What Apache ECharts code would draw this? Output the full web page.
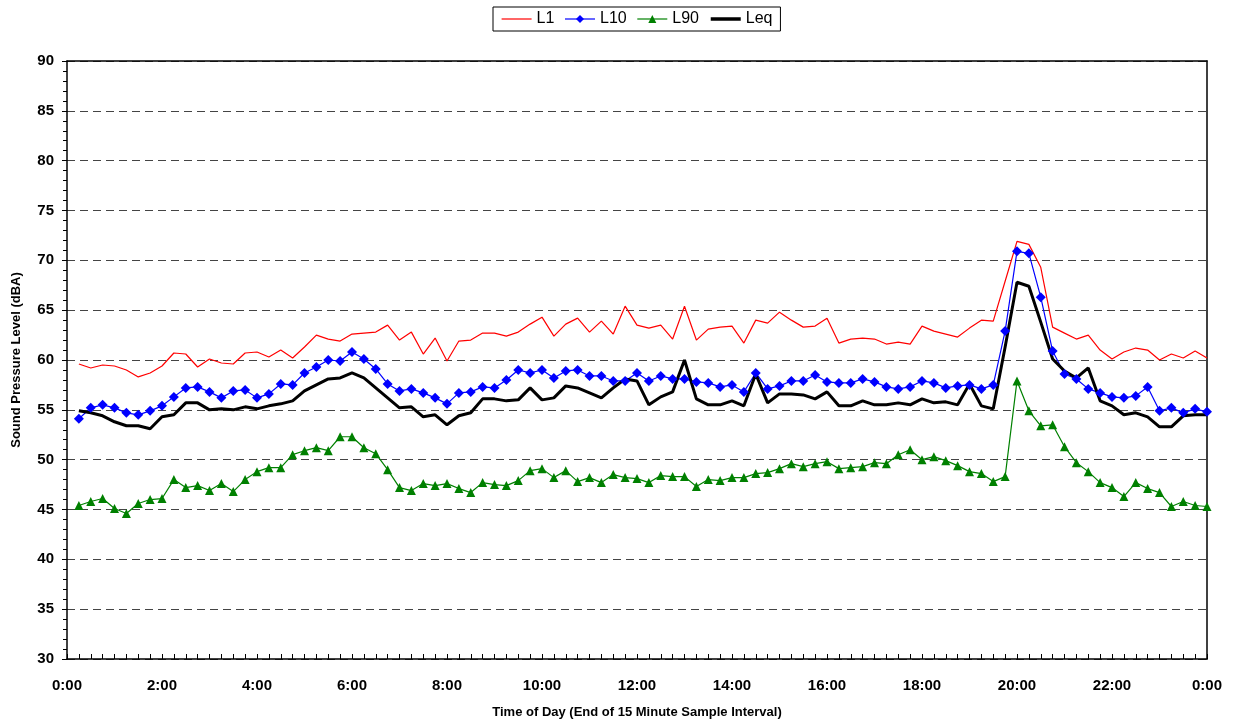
<!DOCTYPE html>
<html>
<head>
<meta charset="utf-8">
<script src="https://cdn.jsdelivr.net/npm/echarts@6/dist/echarts.min.js"></script>
<style>
  html, body { margin: 0; padding: 0; background: #fff; }
  #chart { width: 1233px; height: 725px; }
</style>
</head>
<body>
<div id="chart"></div>
<script>
// 15 minute samples, end of interval: 0:15 ... 24:00
const L1 = [59.6, 59.2, 59.5, 59.4, 59.0, 58.3, 58.7, 59.4, 60.7, 60.6, 59.3, 60.1,
  59.7, 59.6, 60.7, 60.8, 60.3, 61.0, 60.2, 61.3, 62.5, 62.1, 61.9, 62.6,
  62.7, 62.8, 63.5, 62.0, 62.8, 60.6, 62.2, 59.9, 61.9, 62.0, 62.7, 62.7,
  62.4, 62.8, 63.6, 64.3, 62.4, 63.6, 64.2, 62.8, 63.9, 62.6, 65.4, 63.5,
  63.2, 63.5, 62.1, 65.4, 62.0, 63.1, 63.3, 63.4, 61.7, 64.0, 63.7, 64.8,
  64.0, 63.3, 63.4, 64.2, 61.7, 62.1, 62.2, 62.1, 61.6, 61.8, 61.6, 63.4,
  62.9, 62.6, 62.3, 63.2, 64.0, 63.9, 67.9, 71.9, 71.6, 69.3, 63.3, 62.7,
  62.1, 62.5, 61.0, 60.1, 60.8, 61.2, 61.0, 60.0, 60.6, 60.2, 60.9, 60.2];

const L10 = [54.1, 55.2, 55.5, 55.2, 54.7, 54.5, 54.9, 55.4, 56.3, 57.2, 57.3, 56.8,
  56.2, 56.9, 57.0, 56.2, 56.6, 57.6, 57.5, 58.7, 59.3, 60.0, 59.9, 60.8,
  60.1, 59.1, 57.6, 56.9, 57.1, 56.7, 56.2, 55.6, 56.7, 56.8, 57.3, 57.2,
  58.0, 59.0, 58.7, 59.0, 58.2, 58.9, 59.0, 58.4, 58.4, 57.9, 57.9, 58.7,
  57.9, 58.4, 58.1, 58.1, 57.8, 57.7, 57.3, 57.5, 56.8, 58.7, 57.1, 57.4,
  57.9, 57.9, 58.5, 57.8, 57.7, 57.7, 58.1, 57.8, 57.3, 57.1, 57.3, 57.9,
  57.7, 57.2, 57.4, 57.5, 57.1, 57.5, 62.9, 70.9, 70.7, 66.3, 60.9, 58.6,
  58.1, 57.1, 56.7, 56.3, 56.2, 56.4, 57.3, 54.9, 55.2, 54.7, 55.1, 54.8];

const L90 = [45.4, 45.8, 46.1, 45.1, 44.6, 45.6, 46.0, 46.1, 48.0, 47.2, 47.4, 46.9,
  47.6, 46.8, 48.0, 48.8, 49.2, 49.2, 50.5, 50.9, 51.2, 50.9, 52.3, 52.3,
  51.2, 50.6, 49.0, 47.2, 46.9, 47.6, 47.4, 47.6, 47.1, 46.7, 47.7, 47.5,
  47.4, 47.9, 48.9, 49.1, 48.2, 48.9, 47.8, 48.2, 47.7, 48.5, 48.2, 48.1,
  47.7, 48.4, 48.3, 48.3, 47.3, 48.0, 47.9, 48.2, 48.2, 48.6, 48.7, 49.1,
  49.6, 49.3, 49.6, 49.8, 49.1, 49.2, 49.3, 49.7, 49.6, 50.5, 51.0, 50.0,
  50.3, 49.9, 49.4, 48.8, 48.6, 47.8, 48.3, 57.9, 54.9, 53.4, 53.5, 51.3,
  49.7, 48.8, 47.7, 47.2, 46.3, 47.7, 47.1, 46.7, 45.3, 45.8, 45.4, 45.3];

const Leq = [54.9, 54.7, 54.4, 53.8, 53.4, 53.4, 53.1, 54.3, 54.5, 55.7, 55.7, 55.0,
  55.1, 55.0, 55.3, 55.1, 55.4, 55.6, 55.9, 56.9, 57.5, 58.1, 58.2, 58.7,
  58.2, 57.2, 56.2, 55.2, 55.3, 54.3, 54.5, 53.5, 54.4, 54.7, 56.1, 56.1,
  55.9, 56.0, 57.2, 56.0, 56.2, 57.4, 57.2, 56.7, 56.2, 57.2, 58.1, 57.9,
  55.5, 56.3, 56.8, 60.0, 56.1, 55.5, 55.5, 55.9, 55.4, 58.6, 55.7, 56.6,
  56.6, 56.5, 56.1, 56.8, 55.4, 55.4, 55.9, 55.5, 55.5, 55.7, 55.5, 56.1,
  55.7, 55.8, 55.5, 57.6, 55.4, 55.1, 61.3, 67.8, 67.4, 63.8, 60.1, 58.9,
  58.2, 59.2, 55.9, 55.4, 54.5, 54.7, 54.3, 53.3, 53.3, 54.4, 54.5, 54.5];

// category labels 0:00 .. 24:00 (shown as 0:00) every 15 minutes
const times = [];
for (let m = 0; m <= 24 * 60; m += 15) {
  const h = Math.floor(m / 60) % 24;
  const mm = m % 60;
  times.push(h + ':' + (mm < 10 ? '0' + mm : mm));
}

const font = 'Liberation Sans, Arial, sans-serif';
const pad = arr => ['-'].concat(arr);

const chart = echarts.init(document.getElementById('chart'));
const option = {
  animation: false,
  textStyle: { fontFamily: font },
  legend: {
    top: 7,
    left: 493,
    data: [
      { name: 'L1', itemStyle: { opacity: 0 }, lineStyle: { width: 1.2 } },
      { name: 'L10', lineStyle: { width: 1.2 } },
      { name: 'L90', lineStyle: { width: 1.2 } },
      { name: 'Leq', itemStyle: { opacity: 0 }, lineStyle: { width: 3.5 } }
    ],
    borderColor: '#000',
    borderWidth: 1,
    borderRadius: 0,
    padding: [4, 8],
    itemGap: 10,
    itemWidth: 30,
    itemHeight: 10,
    textStyle: { fontFamily: font, fontSize: 16, color: '#000' }
  },
  grid: { left: 67, right: 26, top: 61, bottom: 66 },
  xAxis: [{
    type: 'category',
    data: times,
    boundaryGap: false,
    name: 'Time of Day (End of 15 Minute Sample Interval)',
    nameLocation: 'middle',
    nameGap: 47,
    nameTextStyle: { fontFamily: font, fontSize: 13, fontWeight: 'bold', color: '#000' },
    axisLine: { lineStyle: { color: '#000', width: 1.5 } },
    axisTick: { interval: 0, inside: true, length: 5, lineStyle: { color: '#000' } },
    axisLabel: { interval: 7, margin: 19, fontSize: 15, fontWeight: 'bold', color: '#000', fontFamily: font },
    splitLine: { show: false }
  }, {
    type: 'category',
    data: times,
    boundaryGap: false,
    position: 'top',
    axisLine: { show: true, lineStyle: { color: '#000', width: 1.5 } },
    axisTick: { show: false },
    axisLabel: { show: false },
    splitLine: { show: false }
  }],
  yAxis: [{
    type: 'value',
    min: 30,
    max: 90,
    interval: 5,
    name: 'Sound Pressure Level (dBA)',
    nameLocation: 'middle',
    nameGap: 44,
    nameTextStyle: { fontFamily: font, fontSize: 13, fontWeight: 'bold', color: '#000' },
    axisLine: { show: true, lineStyle: { color: '#000', width: 1.5 } },
    axisTick: { show: true, length: 5, lineStyle: { color: '#000' } },
    minorTick: { show: true, splitNumber: 5, length: 4, lineStyle: { color: '#000' } },
    axisLabel: { margin: 13, fontSize: 15, fontWeight: 'bold', color: '#000', fontFamily: font },
    splitLine: { lineStyle: { color: '#444', type: [8, 5], width: 1 } }
  }, {
    type: 'value',
    min: 30,
    max: 90,
    position: 'right',
    axisLine: { show: true, lineStyle: { color: '#000', width: 1.5 } },
    axisTick: { show: false },
    axisLabel: { show: false },
    splitLine: { show: false }
  }],
  series: [
    {
      name: 'L1', type: 'line', data: pad(L1),
      symbol: 'none',
      lineStyle: { color: '#ff0000', width: 1.2 },
      itemStyle: { color: '#ff0000' }
    },
    {
      name: 'L10', type: 'line', data: pad(L10),
      symbol: 'diamond', symbolSize: 10, showAllSymbol: true,
      lineStyle: { color: '#0000ff', width: 1.2 },
      itemStyle: { color: '#0000ff' }
    },
    {
      name: 'L90', type: 'line', data: pad(L90),
      symbol: 'triangle', symbolSize: 9, showAllSymbol: true,
      lineStyle: { color: '#008000', width: 1.2 },
      itemStyle: { color: '#008000' }
    },
    {
      name: 'Leq', type: 'line', data: pad(Leq),
      symbol: 'none',
      lineStyle: { color: '#000000', width: 3 },
      itemStyle: { color: '#000000' }
    }
  ]
};
chart.setOption(option);
</script>
</body>
</html>
